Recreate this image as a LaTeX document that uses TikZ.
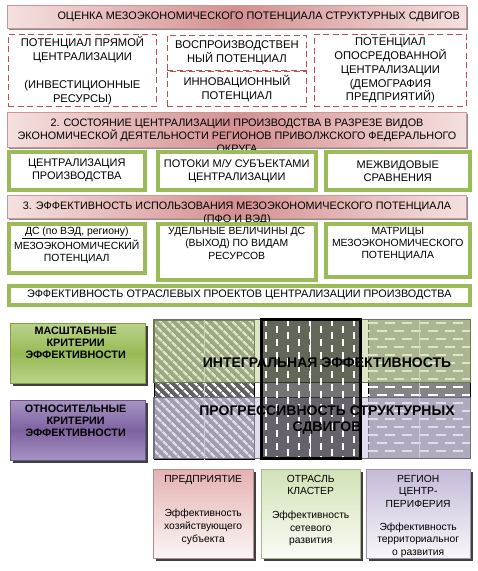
\documentclass[tikz,border=0pt]{standalone}
\usepackage{fontspec}
\setmainfont{Liberation Sans}
\usetikzlibrary{positioning,shadows,patterns.meta,calc}
\definecolor{banlight}{RGB}{245,224,224}
\definecolor{bandark}{RGB}{212,144,144}
\definecolor{banedge}{RGB}{205,150,150}
\definecolor{dashred}{RGB}{192,80,77}
\definecolor{olive}{RGB}{155,187,89}
\definecolor{critgreen}{RGB}{152,186,86}
\definecolor{critgreenl}{RGB}{186,211,138}
\definecolor{critpurple}{RGB}{126,98,160}
\definecolor{critpurplel}{RGB}{166,148,196}
\definecolor{levpink}{RGB}{228,178,177}
\definecolor{levgreen}{RGB}{210,226,182}
\definecolor{levpurple}{RGB}{198,186,216}
\definecolor{bandgreen}{RGB}{196,215,155}
\definecolor{bandpurple}{RGB}{206,196,228}
\tikzset{
  wh/.style 2 args={minimum width=#1pt,minimum height=#2pt},
  banner/.style={rectangle,anchor=north west,inner sep=0pt,draw=banedge,
                 left color=banlight,right color=banlight,middle color=bandark,
                 drop shadow={shadow xshift=1.5pt,shadow yshift=-1.5pt,
                              fill=black!45,opacity=1},
                 font=\fontsize{10.9}{13}\selectfont},
  bantext/.style={align=center,inner sep=0pt,font=\fontsize{10.8}{13}\selectfont},
  dbox/.style={rectangle,anchor=north west,inner sep=0pt,draw=dashred,
               line width=0.9pt,dash pattern=on 6pt off 3.5pt,align=center,
               font=\fontsize{11.2}{13.8}\selectfont},
  gbox/.style={rectangle,anchor=north west,inner sep=0pt,draw=olive,
               line width=3.5pt,fill=white,align=center,
               font=\fontsize{11}{13}\selectfont},
  gtext/.style={anchor=north,inner sep=0pt,align=center,
                font=\fontsize{10.4}{12.3}\selectfont},
  critbox/.style={rectangle,anchor=north west,inner sep=0pt,draw=#1!85!black,
                  top color=#1l,bottom color=#1l,middle color=#1,
                  drop shadow={shadow xshift=2.5pt,shadow yshift=-2.5pt,
                               fill=black!75,opacity=1}},
  crittext/.style={anchor=north,inner sep=0pt,align=center,
                   font=\fontsize{10.8}{11.7}\selectfont\bfseries},
  gridcol/.style={rectangle,anchor=north west,inner sep=0pt},
  band/.style={rectangle,anchor=north west,inner sep=0pt,fill=#1,
               fill opacity=0.6,draw=#1!55!black},
  bandtext/.style={align=center,inner sep=0pt,
                   font=\fontsize{14}{16}\selectfont\bfseries},
  levbox/.style={rectangle,anchor=north west,inner sep=0pt,draw=#1!80!black,
                 top color=#1,bottom color=#1!12,
                 drop shadow={shadow xshift=2.5pt,shadow yshift=-2.5pt,
                              fill=black!75,opacity=1}},
  levtext/.style={anchor=north,inner sep=0pt,align=center,
                  font=\fontsize{10.3}{12.6}\selectfont},
  wdash/.style={white,line width=1.4pt},
  midline/.style={white!80!black,line width=0.6pt},
}
\begin{document}
\begin{tikzpicture}[x=1pt,y=-1pt]
  \useasboundingbox (0,0) rectangle (478,571);

  % --- блок 1: оценка потенциала ---
  \node[banner,wh={459}{23}] (ban1) at (7,5)
    {\hspace*{44pt}ОЦЕНКА МЕЗОЭКОНОМИЧЕСКОГО ПОТЕНЦИАЛА СТРУКТУРНЫХ СДВИГОВ};
  \node[dbox,wh={148}{72}] (direct) at (8,34)
    {ПОТЕНЦИАЛ ПРЯМОЙ\\ЦЕНТРАЛИЗАЦИИ\\[14pt](ИНВЕСТИЦИОННЫЕ\\РЕСУРСЫ)};
  \node[dbox,wh={139}{35}] (reprod) at (167,35) {ВОСПРОИЗВОДСТВЕН\\НЫЙ ПОТЕНЦИАЛ};
  \node[dbox,wh={139}{35}] (innov) at (167,71) {ИННОВАЦИОННЫЙ\\ПОТЕНЦИАЛ};
  \node[dbox,wh={152}{72}] (indirect) at (314,34)
    {ПОТЕНЦИАЛ\\ОПОСРЕДОВАННОЙ\\ЦЕНТРАЛИЗАЦИИ\\(ДЕМОГРАФИЯ\\ПРЕДПРИЯТИЙ)};

  % --- блок 2: состояние централизации ---
  \node[banner,wh={459}{35}] (ban2) at (7,112) {};
  \node[bantext] (ban2t) at (237,136)
    {2. СОСТОЯНИЕ ЦЕНТРАЛИЗАЦИИ ПРОИЗВОДСТВА В РАЗРЕЗЕ ВИДОВ\\
     ЭКОНОМИЧЕСКОЙ ДЕЯТЕЛЬНОСТИ РЕГИОНОВ ПРИВОЛЖСКОГО ФЕДЕРАЛЬНОГО\\
     ОКРУГА};
  \node[gbox,wh={136}{38}] (centr) at (7,150) {ЦЕНТРАЛИЗАЦИЯ\\ПРОИЗВОДСТВА};
  \node[gbox,wh={158}{38}] (flows) at (156,150) {ПОТОКИ М/У СУБЪЕКТАМИ\\ЦЕНТРАЛИЗАЦИИ};
  \node[gbox,wh={144}{38}] (cross) at (324,150) {МЕЖВИДОВЫЕ\\СРАВНЕНИЯ};

  % --- блок 3: эффективность использования ---
  \node[banner,wh={459}{23}] (ban3) at (7,195) {};
  \node[bantext] (ban3t) at (237,213)
    {3. ЭФФЕКТИВНОСТЬ ИСПОЛЬЗОВАНИЯ МЕЗОЭКОНОМИЧЕСКОГО ПОТЕНЦИАЛА\\(ПФО И ВЭД)};
  \node[gbox,wh={136}{49}] (meso) at (7,222) {};
  \node[gbox,wh={158}{56}] (spec) at (156,222) {};
  \node[gbox,wh={144}{53}] (matr) at (324,222) {};
  \node[gtext] (mesot) at ([yshift=-5pt]meso.north)
    {{\fontsize{10.4}{12}\selectfont\underline{\ ДС (по ВЭД, региону)\ }}\\
     МЕЗОЭКОНОМИЧЕСКИЙ\\ПОТЕНЦИАЛ};
  \node[gtext] (spect) at ([yshift=-5pt]spec.north)
    {УДЕЛЬНЫЕ ВЕЛИЧИНЫ ДС\\(ВЫХОД) ПО ВИДАМ\\РЕСУРСОВ};
  \node[gtext] (matrt) at ([yshift=-5pt]matr.north)
    {МАТРИЦЫ\\МЕЗОЭКОНОМИЧЕСКОГО\\ПОТЕНЦИАЛА};
  \node[gbox,wh={461}{19},font=\fontsize{10.8}{13}\selectfont] (proj) at (7,284)
    {ЭФФЕКТИВНОСТЬ ОТРАСЛЕВЫХ ПРОЕКТОВ ЦЕНТРАЛИЗАЦИИ ПРОИЗВОДСТВА};

  % --- критерии ---
  \node[critbox=critgreen,wh={135}{60}] (scale) at (10,323) {};
  \node[crittext] (scalet) at ([xshift=-2pt,yshift=-4pt]scale.north)
    {МАСШТАБНЫЕ\\КРИТЕРИИ\\ЭФФЕКТИВНОСТИ};
  \node[critbox=critpurple,wh={135}{60}] (relat) at (10,400) {};
  \node[crittext] (relatt) at ([xshift=-2pt,yshift=-5pt]relat.north)
    {ОТНОСИТЕЛЬНЫЕ\\КРИТЕРИИ\\ЭФФЕКТИВНОСТИ};

  % --- сетка: столбцы и полосы ---
  \node[gridcol,wh={100}{139},draw=black,preaction={fill=black!62},
        pattern={Lines[angle=-45,distance=6.5pt,line width=2.4pt]},
        pattern color=white] (col1) at (153,319) {};
  \draw[midline] (col1.north) -- (col1.south);
  \node[gridcol,wh={102}{139},draw=black,fill=black!48] (col3) at (368,319) {};
  \begin{scope}
    \clip (col3.north west) rectangle (col3.south east);
    \foreach \j [evaluate=\j as \ph using {mod(\j,2)*8.5}] in {0,...,17}
      \draw[wdash,dash pattern=on 10pt off 7pt,dash phase=\ph pt]
        (368,{323+8*\j}) -- ++(102,0);
  \end{scope}
  \draw[midline] (col3.north) -- (col3.south);

  \node[band=bandgreen,wh={317}{63}] (bgreen) at (153,319) {};
  \node[band=bandpurple,wh={317}{61}] (bpurple) at (153,397) {};

  \node[gridcol,wh={99}{139},fill=black,fill opacity=0.55] (col2) at (261,319) {};
  \begin{scope}
    \clip (col2.north west) rectangle (col2.south east);
    \foreach \i [evaluate=\i as \ph using {mod(\i,2)*6.5}] in {0,...,8}
      \draw[wdash,dash pattern=on 7pt off 6pt,dash phase=\ph pt]
        ({266+11*\i},319) -- ++(0,139);
  \end{scope}
  \draw[midline,white] (col2.north) -- (col2.south);
  \draw[line width=3pt] (col2.north west) rectangle (col2.south east);

  \node[bandtext] (integ) at (327,363) {ИНТЕГРАЛЬНАЯ ЭФФЕКТИВНОСТЬ};
  \node[bandtext] (progr) at (327,420) {ПРОГРЕССИВНОСТЬ СТРУКТУРНЫХ\\СДВИГОВ};

  % --- уровни ---
  \node[levbox=levpink,wh={100}{89}] (firm) at (153,469) {};
  \node[levtext] (firmt) at ([yshift=-6pt]firm.north)
    {ПРЕДПРИЯТИЕ\\[22pt]Эффективность\\хозяйствующего\\субъекта};
  \node[levbox=levgreen,wh={99}{89}] (branch) at (261,469) {};
  \node[levtext] (brancht) at ([yshift=-6pt]branch.north)
    {ОТРАСЛЬ\\КЛАСТЕР\\[11pt]Эффективность\\сетевого\\развития};
  \node[levbox=levpurple,wh={104}{89}] (region) at (366,469) {};
  \node[levtext] (regiont) at ([yshift=-6pt]region.north)
    {РЕГИОН\\ЦЕНТР-\\ПЕРИФЕРИЯ\\[10pt]Эффективность\\территориальног\\о развития};
\end{tikzpicture}
\end{document}
